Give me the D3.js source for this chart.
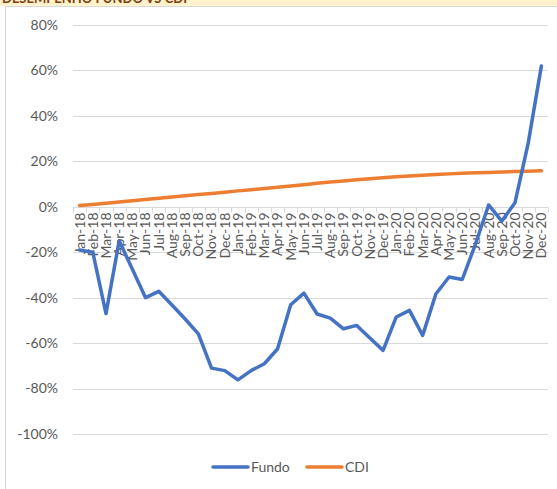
<!DOCTYPE html>
<html>
<head>
<meta charset="utf-8">
<script src="https://cdn.jsdelivr.net/npm/d3@7"></script>
<style>
  body { margin: 0; background: #fff; }
  svg { display: block; font-family: Lato, "Open Sans", sans-serif; }
</style>
</head>
<body>
<svg id="chart" width="557" height="489"></svg>
<script>
// months on the x axis
var months = ['Jan-18','Feb-18','Mar-18','Apr-18','May-18','Jun-18','Jul-18','Aug-18','Sep-18','Oct-18','Nov-18','Dec-18',
  'Jan-19','Feb-19','Mar-19','Apr-19','May-19','Jun-19','Jul-19','Aug-19','Sep-19','Oct-19','Nov-19','Dec-19',
  'Jan-20','Feb-20','Mar-20','Apr-20','May-20','Jun-20','Jul-20','Aug-20','Sep-20','Oct-20','Nov-20','Dec-20'];

// accumulated return, %
var fundo = [-19, -20, -47, -15, -27.5, -40, -37.2, -43.2, -49.4, -55.9, -71, -72.1,
  -76.2, -72.1, -69.1, -62.6, -43.1, -38, -47.2, -49, -53.7, -52.2, -57.8, -63.2,
  -48.5, -45.6, -56.6, -38.4, -30.9, -32, -16.5, 0.8, -6.3, 1.8, 28, 62];
var cdi = [0.58, 1.04, 1.58, 2.11, 2.64, 3.17, 3.73, 4.32, 4.81, 5.38, 5.89, 6.41,
  7.0, 7.52, 8.03, 8.59, 9.18, 9.69, 10.32, 10.87, 11.38, 11.91, 12.34, 12.75,
  13.18, 13.51, 13.89, 14.21, 14.48, 14.72, 14.94, 15.12, 15.31, 15.49, 15.67, 15.86];
var yTicks = [80, 60, 40, 20, 0, -20, -40, -60, -80, -100];

var svg = d3.select('#chart');

// header strip cut off at the top
svg.append('rect').attr('x', 0).attr('y', 0).attr('width', 557).attr('height', 6).attr('fill', '#fff2cc');
svg.append('text').attr('x', 2).attr('y', 3)
  .attr('font-size', 13).attr('font-weight', 'bold').attr('fill', '#843c0c')
  .text('DESEMPENHO FUNDO VS CDI');
// chart area border
svg.append('rect').attr('x', 5.5).attr('y', 6.5).attr('width', 560).attr('height', 490)
  .attr('fill', '#fff').attr('stroke', '#d9d9d9');

var x = d3.scaleBand().domain(months).range([73, 548]);
var y = d3.scaleLinear().domain([-100, 80]).range([434, 25]);

// gridlines
svg.append('g').selectAll('line').data(yTicks).enter().append('line')
  .attr('x1', 73).attr('x2', 548)
  .attr('y1', function(d) { return Math.round(y(d)) + 0.5; })
  .attr('y2', function(d) { return Math.round(y(d)) + 0.5; })
  .attr('stroke', '#d9d9d9').attr('stroke-width', 1);

// y labels
svg.append('g').selectAll('text').data(yTicks).enter().append('text')
  .attr('x', 58).attr('y', function(d) { return y(d); })
  .attr('dy', '0.35em').attr('text-anchor', 'end')
  .attr('font-size', 14).attr('fill', '#595959')
  .text(function(d) { return d + '%'; });

// category axis on the 0 line, ticks between months
var xAxis = svg.append('g').attr('transform', 'translate(0,' + (Math.round(y(0)) + 0.5) + ')');
xAxis.append('line').attr('x1', 73).attr('x2', 548).attr('stroke', '#d9d9d9');
xAxis.selectAll('.tk').data(months.concat(['end'])).enter().append('line')
  .attr('x1', function(d, i) { return Math.round(73 + i * x.step()) + 0.5; })
  .attr('x2', function(d, i) { return Math.round(73 + i * x.step()) + 0.5; })
  .attr('y1', 0).attr('y2', 5).attr('stroke', '#d9d9d9');
xAxis.selectAll('text').data(months).enter().append('text')
  .attr('transform', function(d) { return 'translate(' + (x(d) + x.bandwidth() / 2) + ',5) rotate(-90)'; })
  .attr('dy', '0.35em').attr('text-anchor', 'end')
  .attr('font-size', 14).attr('fill', '#595959')
  .text(function(d) { return d; });

var line = function(vals) {
  return d3.line()
    .x(function(d, i) { return x(months[i]) + x.bandwidth() / 2; })
    .y(function(d) { return y(d); })(vals);
};

svg.append('path').attr('d', line(cdi)).attr('fill', 'none')
  .attr('stroke', '#ed7d31').attr('stroke-width', 3.5)
  .attr('stroke-linejoin', 'round').attr('stroke-linecap', 'round');
svg.append('path').attr('d', line(fundo)).attr('fill', 'none')
  .attr('stroke', '#4472c4').attr('stroke-width', 3.5)
  .attr('stroke-linejoin', 'round').attr('stroke-linecap', 'round');

// legend
var legend = [['Fundo', '#4472c4', 213], ['CDI', '#ed7d31', 307]];
var lg = svg.append('g').selectAll('g').data(legend).enter().append('g')
  .attr('transform', function(d) { return 'translate(' + d[2] + ',467)'; });
lg.append('line').attr('x1', 0).attr('x2', 35).attr('stroke', function(d) { return d[1]; })
  .attr('stroke-width', 3.5).attr('stroke-linecap', 'round');
lg.append('text').attr('x', 38).attr('dy', '0.35em').attr('font-size', 14).attr('fill', '#595959')
  .text(function(d) { return d[0]; });
</script>
</body>
</html>
